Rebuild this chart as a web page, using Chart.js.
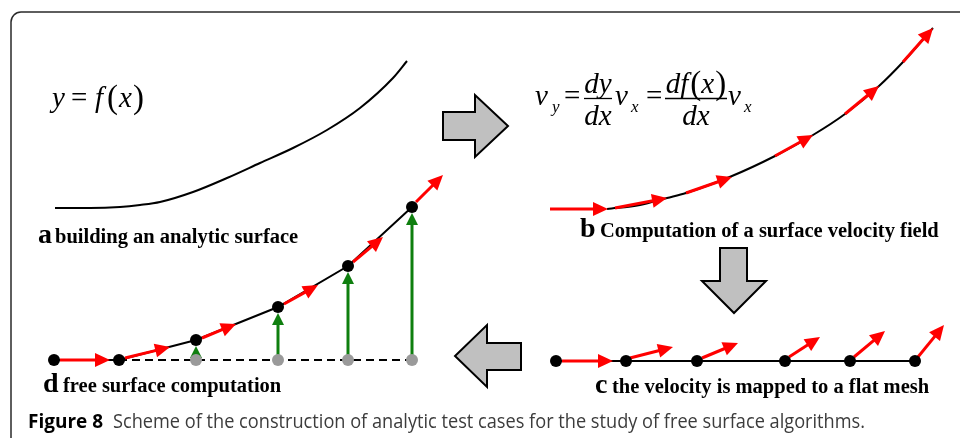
<!DOCTYPE html>
<html>
<head>
<meta charset="utf-8">
<script src="https://cdn.jsdelivr.net/npm/chart.js@4.4.1/dist/chart.umd.min.js"></script>
<style>
  html, body { margin: 0; padding: 0; background: #fff; }
  #wrap { width: 960px; height: 438px; }
</style>
</head>
<body>
<div id="wrap"><canvas id="diagram" width="960" height="438"></canvas></div>
<script>
// panel a: the analytic surface y = f(x)
const surfaceX = [55, 90, 120, 140, 160, 193, 227, 260, 293, 327, 360, 393, 407];
const surfaceY = [208, 208, 207, 205, 202, 192, 178, 163, 148, 130, 108, 78, 61];

// panel b: same surface with its velocity field
const fieldX = [607, 640, 667, 686, 732, 775, 813, 845, 879, 903, 933];
const fieldY = [209, 205, 198, 193, 176, 156, 135, 114, 86, 62, 28];
const fieldFromX = [550, 615, 686, 775, 845, 903];
const fieldFromY = [209, 208, 193, 156, 114, 62];
const fieldToX = [608, 667, 732, 813, 879, 933];
const fieldToY = [209, 198, 177, 135, 86, 28];

// panel c: flat mesh with the mapped velocities
const meshX = [556, 626, 697, 785, 850, 915];
const meshY = [361, 361, 361, 361, 361, 361];
const meshFromX = [562, 630, 702, 789, 854, 918];
const meshFromY = [361, 358, 358, 357, 357, 357];
const meshToX = [613, 673, 738, 820, 885, 944];
const meshToY = [361, 347, 343, 337, 331, 325];

// panel d: free surface computation
const freeX = [54, 119, 196, 278, 348, 412];
const freeY = [360, 360, 340, 307, 266, 207];
const baseX = [196, 278, 348, 412];
const baseY = [360, 360, 360, 360];
const liftToY = [346, 313, 272, 213];
const freeFromX = [60, 125, 202, 284, 353, 416];
const freeFromY = [360, 358, 338, 304, 262, 202];
const freeToX = [110, 170, 236, 318, 383, 443];
const freeToY = [360, 347, 324, 285, 237, 175];

// grey block arrows between the panels
const stepRight = [[443, 112], [475, 112], [475, 95], [508, 126], [475, 157], [475, 140], [443, 140]];
const stepDown = [[720, 248], [747, 248], [747, 281], [766, 281], [734, 313], [702, 281], [720, 281]];
const stepLeft = [[521, 343], [487, 343], [487, 325], [455, 356], [487, 387], [487, 370], [521, 370]];

const panelLetters = ["a", "b", "c", "d"];
const panelTitles = [
  "building an analytic surface",
  "Computation of a surface velocity field",
  "the velocity is mapped to a flat mesh",
  "free surface computation",
];
const captionHead = "Figure 8";
const captionText = "Scheme of the construction of analytic test cases for the study of free surface algorithms.";

const toPoints = (xs, ys) => xs.map((x, i) => ({ x: x, y: ys[i] }));

const SERIF = "'Liberation Serif', 'Times New Roman', serif";
const MATH = 29;

function setFont(ctx, p) {
  ctx.font = (p.italic ? "italic " : "") + p.size + "px " + SERIF;
}

// draws a run of glyph groups, each at a fixed x if given, else after the previous one
function drawRun(ctx, x, y, parts) {
  let cx = x;
  parts.forEach(function (p) {
    setFont(ctx, p);
    if (p.x !== undefined) cx = p.x;
    ctx.fillText(p.t, cx, y + (p.dy || 0));
    cx += ctx.measureText(p.t).width + (p.gap || 0);
  });
  return cx;
}

function runWidth(ctx, parts) {
  let w = 0;
  parts.forEach(function (p) {
    setFont(ctx, p);
    w += ctx.measureText(p.t).width + (p.gap || 0);
  });
  return w;
}

function drawArrow(ctx, x0, y0, x1, y1, color, lw, len, half) {
  const a = Math.atan2(y1 - y0, x1 - x0);
  const c = Math.cos(a), s = Math.sin(a);
  const bx = x1 - len * c, by = y1 - len * s;
  ctx.strokeStyle = color;
  ctx.fillStyle = color;
  ctx.lineWidth = lw;
  ctx.lineCap = "butt";
  ctx.beginPath();
  ctx.moveTo(x0, y0);
  ctx.lineTo(bx + 2 * c, by + 2 * s);
  ctx.stroke();
  ctx.beginPath();
  ctx.moveTo(x1, y1);
  ctx.lineTo(bx + half * s, by - half * c);
  ctx.lineTo(bx - half * s, by + half * c);
  ctx.closePath();
  ctx.fill();
}

const diagramPlugin = {
  id: "diagram",
  beforeDatasetsDraw(chart) {
    const ctx = chart.ctx;
    const sx = chart.scales.x, sy = chart.scales.y;
    ctx.save();

    // frame
    ctx.strokeStyle = "#2a2a2a";
    ctx.lineWidth = 1.5;
    ctx.beginPath();
    ctx.moveTo(11, 440);
    ctx.lineTo(11, 22);
    ctx.arcTo(11, 12, 21, 12, 10);
    ctx.lineTo(962, 12);
    ctx.stroke();

    // block arrows
    [stepRight, stepDown, stepLeft].forEach(function (shape) {
      ctx.beginPath();
      shape.forEach(function (pt, i) {
        const px = sx.getPixelForValue(pt[0]), py = sy.getPixelForValue(pt[1]);
        if (i === 0) ctx.moveTo(px, py); else ctx.lineTo(px, py);
      });
      ctx.closePath();
      ctx.fillStyle = "#c0c0c0";
      ctx.fill();
      ctx.strokeStyle = "#000";
      ctx.lineWidth = 2;
      ctx.lineJoin = "miter";
      ctx.stroke();
    });

    // formulas
    ctx.fillStyle = "#000";
    ctx.textBaseline = "alphabetic";
    ctx.textAlign = "left";
    drawRun(ctx, 52, 107, [
      { t: "y", italic: true, size: MATH, x: 52 },
      { t: "=", size: MATH, x: 71 },
      { t: "f", italic: true, size: MATH, x: 95 },
      { t: "(", size: 33, dy: 1, x: 107 },
      { t: "x", italic: true, size: MATH, x: 119 },
      { t: ")", size: 33, dy: 1, x: 133 },
    ]);

    drawRun(ctx, 535, 105, [
      { t: "v", italic: true, size: MATH, x: 535 },
      { t: "y", italic: true, size: 17, dy: 7, x: 552 },
      { t: "=", size: MATH, x: 564 },
      { t: "v", italic: true, size: MATH, x: 615 },
      { t: "x", italic: true, size: 17, dy: 7, x: 631 },
      { t: "=", size: MATH, x: 646 },
      { t: "v", italic: true, size: MATH, x: 728 },
      { t: "x", italic: true, size: 17, dy: 7, x: 744 },
    ]);
    const frac = function (cx, top, bottom, x0, x1) {
      const tw = runWidth(ctx, top), bw = runWidth(ctx, bottom);
      drawRun(ctx, cx - tw / 2, 93, top);
      drawRun(ctx, cx - bw / 2, 125, bottom);
      ctx.strokeStyle = "#000";
      ctx.lineWidth = 1.3;
      ctx.beginPath();
      ctx.moveTo(x0, 98.5);
      ctx.lineTo(x1, 98.5);
      ctx.stroke();
    };
    frac(598, [{ t: "dy", italic: true, size: MATH }], [{ t: "dx", italic: true, size: MATH }], 584, 612);
    frac(696, [
      { t: "df", italic: true, size: MATH, gap: 2 },
      { t: "(", size: 33, dy: 1 },
      { t: "x", italic: true, size: MATH, gap: 1 },
      { t: ")", size: 33, dy: 1 },
    ], [{ t: "dx", italic: true, size: MATH }], 665, 727);

    // panel titles
    const letterPos = [[38, 243], [580, 237], [595, 393], [43, 392]];
    const titlePos = [[55, 243], [600, 237], [612, 393], [63, 392]];
    panelLetters.forEach(function (l, i) {
      ctx.font = "bold 28px " + SERIF;
      ctx.fillText(l, letterPos[i][0], letterPos[i][1]);
      ctx.font = "bold 20.5px " + SERIF;
      ctx.fillText(panelTitles[i], titlePos[i][0], titlePos[i][1]);
    });

    // caption
    ctx.font = "bold 20px 'Open Sans', Lato, sans-serif";
    ctx.fillStyle = "#000";
    ctx.fillText(captionHead, 28, 428, 75);
    ctx.font = "20px 'Open Sans', Lato, sans-serif";
    ctx.fillStyle = "#3c3c3c";
    ctx.fillText(captionText, 113, 428, 752);
    ctx.restore();
  },
  beforeDatasetDraw(chart, args) {
    // arrows go above the curves but under the nodes
    if (args.index !== 1) return;
    const ctx = chart.ctx;
    const sx = chart.scales.x, sy = chart.scales.y;
    const X = (v) => sx.getPixelForValue(v);
    const Y = (v) => sy.getPixelForValue(v);
    ctx.save();
    fieldFromX.forEach(function (x, i) {
      drawArrow(ctx, X(x), Y(fieldFromY[i]), X(fieldToX[i]), Y(fieldToY[i]), "#ff0000", 3, 15, 7);
    });
    meshFromX.forEach(function (x, i) {
      drawArrow(ctx, X(x), Y(meshFromY[i]), X(meshToX[i]), Y(meshToY[i]), "#ff0000", 3, 15, 7);
    });
    freeFromX.forEach(function (x, i) {
      drawArrow(ctx, X(x), Y(freeFromY[i]), X(freeToX[i]), Y(freeToY[i]), "#ff0000", 3, 15, 7);
    });
    baseX.forEach(function (x, i) {
      drawArrow(ctx, X(x), Y(baseY[i] - 5), X(x), Y(liftToY[i]), "#0f7f0f", 3, 12, 6);
    });
    ctx.restore();
  },
};

const ctx = document.getElementById("diagram").getContext("2d");

new Chart(ctx, {
  type: "scatter",
  data: {
    datasets: [
      {
        label: "surface nodes",
        data: toPoints(freeX, freeY).concat(toPoints(meshX, meshY)),
        backgroundColor: "#000",
        borderWidth: 0,
        pointRadius: 6,
        order: 0,
      },
      {
        label: "flat mesh nodes",
        data: toPoints(baseX, baseY),
        backgroundColor: "#9a9a9a",
        borderWidth: 0,
        pointRadius: 6,
        order: 1,
      },
      {
        label: "f(x)",
        type: "line",
        data: toPoints(surfaceX, surfaceY),
        borderColor: "#000",
        borderWidth: 2,
        pointRadius: 0,
        cubicInterpolationMode: "monotone",
        order: 2,
      },
      {
        label: "velocity field",
        type: "line",
        data: toPoints(fieldX, fieldY),
        borderColor: "#000",
        borderWidth: 2,
        pointRadius: 0,
        cubicInterpolationMode: "monotone",
        order: 3,
      },
      {
        label: "flat mesh",
        type: "line",
        data: toPoints(meshX, meshY),
        borderColor: "#000",
        borderWidth: 2,
        pointRadius: 0,
        order: 4,
      },
      {
        label: "free surface",
        type: "line",
        data: toPoints(freeX, freeY),
        borderColor: "#000",
        borderWidth: 2,
        pointRadius: 0,
        order: 5,
      },
      {
        label: "base",
        type: "line",
        data: toPoints([freeX[0], baseX[baseX.length - 1]], [freeY[0], baseY[0]]),
        borderColor: "#000",
        borderWidth: 2,
        borderDash: [8, 5],
        pointRadius: 0,
        order: 6,
      },
    ],
  },
  options: {
    responsive: false,
    animation: false,
    devicePixelRatio: 1,
    layout: { padding: 0, autoPadding: false },
    plugins: {
      legend: { display: false },
      tooltip: { enabled: false },
    },
    scales: {
      x: { type: "linear", min: 0, max: 960, display: false },
      y: { type: "linear", min: 0, max: 438, reverse: true, display: false },
    },
  },
  plugins: [diagramPlugin],
});
</script>
</body>
</html>
